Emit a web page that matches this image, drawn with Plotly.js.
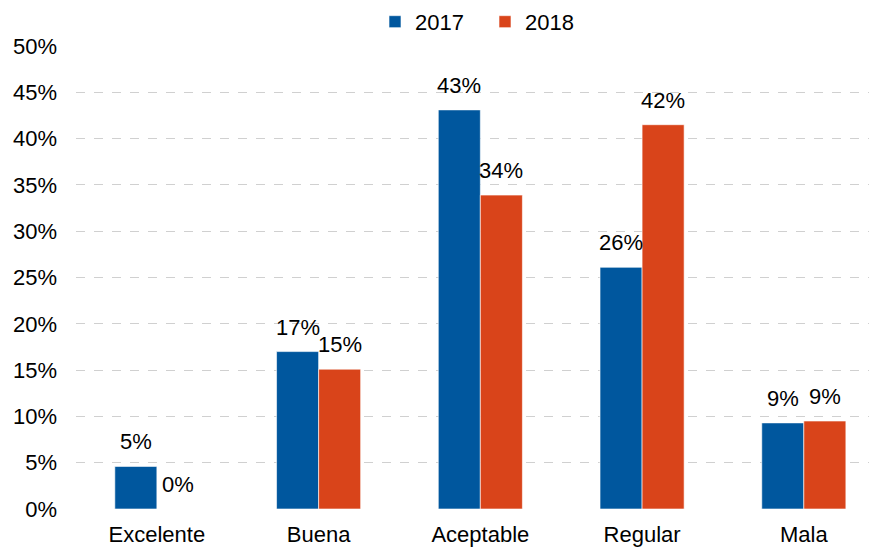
<!DOCTYPE html>
<html><head><meta charset="utf-8">
<script src="https://cdn.plot.ly/plotly-3.0.1.min.js"></script>
<style>html,body{margin:0;padding:0;background:#fff}</style>
</head><body>
<div id="chart" style="width:869px;height:547px"></div>
<script>
const categories = ["Excelente", "Buena", "Aceptable", "Regular", "Mala"];
const values2017 = [0.046, 0.17, 0.431, 0.261, 0.093];
const values2018 = [0.0, 0.151, 0.339, 0.415, 0.095];
const labels2017 = ["5%", "17%", "43%", "26%", "9%"];
const labels2018 = ["0%", "15%", "34%", "42%", "9%"];
const seriesNames = ["2017", "2018"];

const font = {family: "Liberation Sans, Arial, sans-serif", size: 22, color: "#000"};
const traces = [
  {type: "bar", name: seriesNames[0], x: categories, y: values2017,
   marker: {color: "#00579E", line: {color: "#ffffff", width: 0.6}}},
  {type: "bar", name: seriesNames[1], x: categories, y: values2018,
   marker: {color: "#D9441A", line: {color: "#ffffff", width: 0.6}}}
];
const annotations = [];
[[values2017, labels2017, -21], [values2018, labels2018, 21]].forEach(([vals, labs, dx]) => {
  categories.forEach((c, i) => {
    annotations.push({x: c, y: vals[i], xref: "x", yref: "y", text: labs[i],
      showarrow: false, xanchor: "center", yanchor: "bottom", xshift: dx, yshift: 10, font: font});
  });
});
const layout = {
  width: 869, height: 547,
  margin: {l: 76, r: 0, t: 46, b: 38},
  paper_bgcolor: "#fff", plot_bgcolor: "#fff",
  font: font,
  barmode: "group", bargap: 0.48, bargroupgap: 0,
  showlegend: true,
  legend: {orientation: "h", x: 375/869, xanchor: "left", xref: "container",
           y: 0.96, yanchor: "middle", yref: "container",
           entrywidth: 65, entrywidthmode: "pixels",
           font: font, itemwidth: 30, traceorder: "normal"},
  annotations: annotations,
  xaxis: {range: [-0.5, 4.403], showgrid: false, zeroline: false, showline: false,
          ticks: "", ticklabelstandoff: 10, tickfont: font, fixedrange: true, automargin: false},
  yaxis: {range: [0, 0.5], dtick: 0.05, tickformat: ".0%", showgrid: true,
          gridcolor: "#d0d0d0", griddash: "dash", gridwidth: 1, zeroline: false,
          showline: false, ticks: "", ticklabelstandoff: 18, tickfont: font, automargin: false}
};
Plotly.newPlot("chart", traces, layout, {staticPlot: true});
</script>
</body></html>
